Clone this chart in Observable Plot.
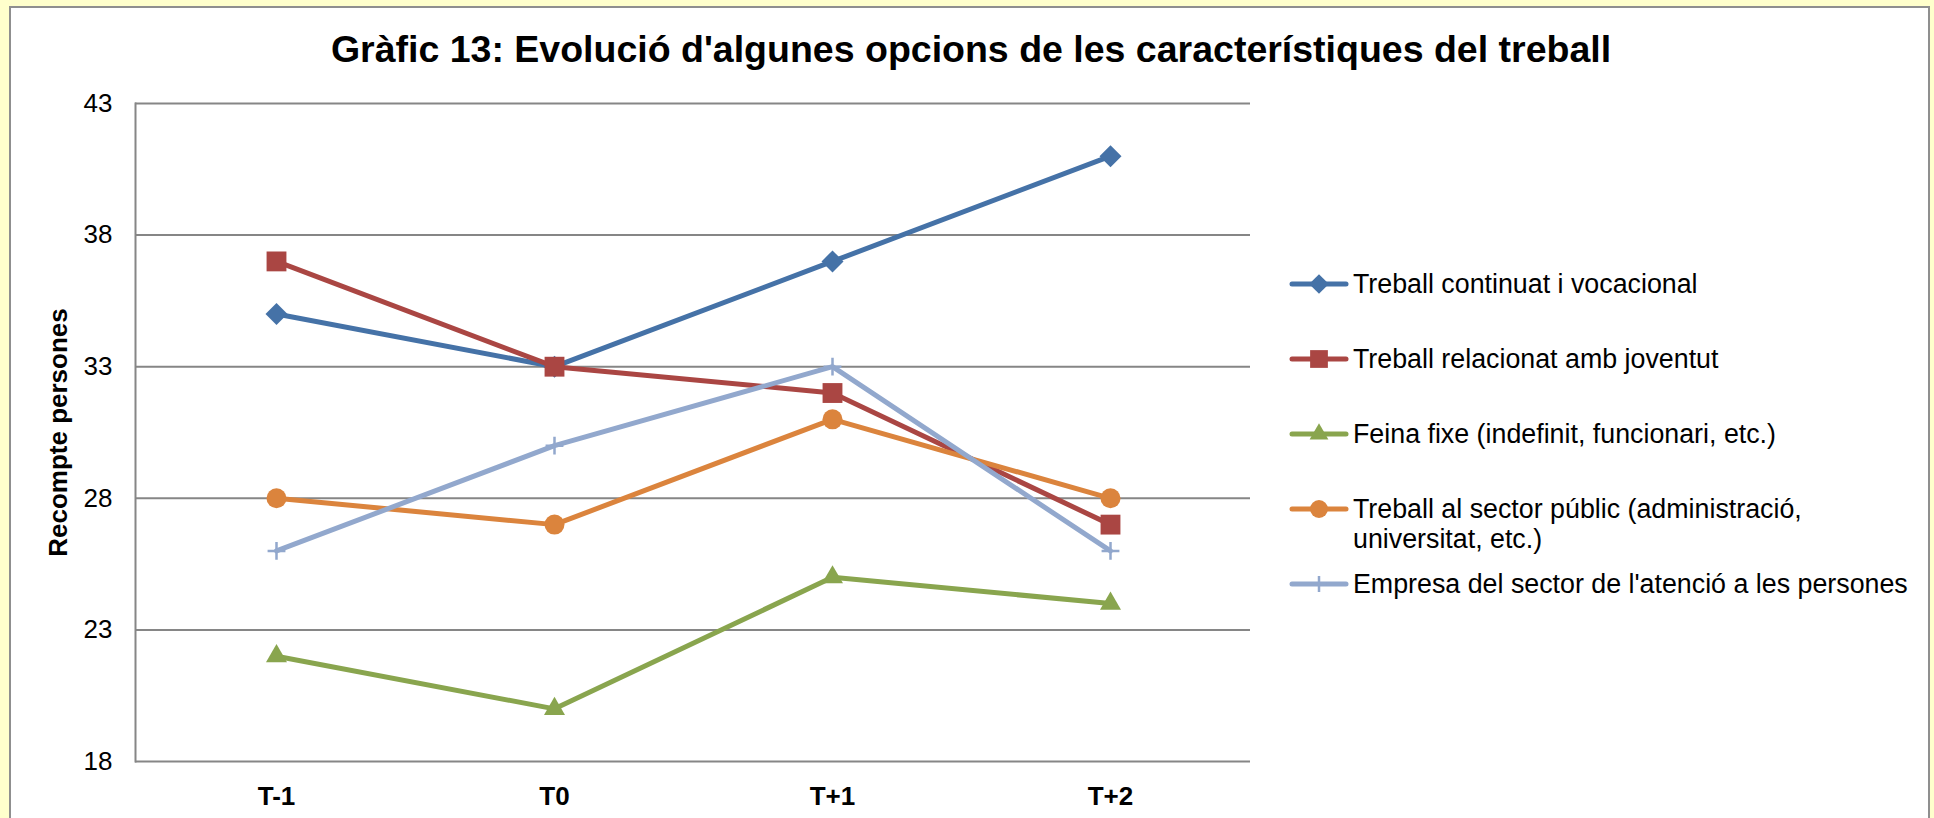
<!DOCTYPE html>
<html>
<head>
<meta charset="utf-8">
<script src="https://cdn.jsdelivr.net/npm/d3@7"></script>
<script src="https://cdn.jsdelivr.net/npm/@observablehq/plot@0.6"></script>
<style>
  html, body { margin: 0; padding: 0; }
  body { width: 1934px; height: 818px; background: #FFFFCC; position: relative; overflow: hidden;
         font-family: "Liberation Sans", Arial, sans-serif; }
  #box { position: absolute; left: 9px; top: 6px; width: 1921px; height: 900px; background: #fff;
         border: 2px solid #8f8f8f; box-sizing: border-box; }
  #title { position: absolute; left: 0; width: 1942px; top: 31px; text-align: center;
           font-weight: bold; font-size: 37.5px; line-height: 37.5px; color: #000; white-space: nowrap; }
  #chart { position: absolute; left: 0; top: 0; }
  #legend { position: absolute; left: 0; top: 0; }
  .row { position: absolute; left: 1288px; height: 30px; }
  .row svg { position: absolute; left: 0; top: 0; overflow: visible; }
  .row .lab { position: absolute; left: 65px; width: 568px; font-size: 26.8px; line-height: 30px; color: #000; }
</style>
</head>
<body>
<div id="box"></div>
<div id="title"></div>
<div id="chart"></div>
<div id="legend"></div>
<script>
const titleText = "Gràfic 13: Evolució d'algunes opcions de les característiques del treball";
const yAxisTitle = "Recompte persones";
const categories = ["T-1", "T0", "T+1", "T+2"];
const yTicks = [18, 23, 28, 33, 38, 43];

const seriesNames = [
  "Treball continuat i vocacional",
  "Treball relacionat amb joventut",
  "Feina fixe (indefinit, funcionari, etc.)",
  "Treball al sector públic (administració, universitat, etc.)",
  "Empresa del sector de l'atenció a les persones"
];
const treballContinuat = [35, 33, 37, 41];
const treballJoventut  = [37, 33, 32, 27];
const feinaFixe        = [22, 20, 25, 24];
const sectorPublic     = [28, 27, 31, 28];
const empresaAtencio   = [26, 30, 33, 26];

const seriesValues = [treballContinuat, treballJoventut, feinaFixe, sectorPublic, empresaAtencio];
const colors  = ["#4572A7", "#AA4643", "#89A54E", "#DB843D", "#92A8CD"];
const symbols = ["diamond2", "square", "triangle", "circle", "plus"];
const radii   = [9.9, 11.2, 7.8, 10, 5.8];

document.getElementById("title").textContent = titleText;

const data = seriesNames.flatMap((name, i) =>
  categories.map((c, j) => ({series: name, cat: c, value: seriesValues[i][j]})));

const marks = [
  Plot.gridY(yTicks, {stroke: "#868686", strokeOpacity: 1, strokeWidth: 2}),
  Plot.frame({anchor: "left", stroke: "#868686", strokeWidth: 2}),
  Plot.axisY(yTicks, {tickSize: 0, tickPadding: 23, fontSize: 26, fill: "#000", label: null}),
  Plot.axisX({tickSize: 0, tickPadding: 25, fontSize: 26, fontWeight: "bold", fill: "#000", label: null}),
  Plot.text([yAxisTitle], {frameAnchor: "left", textAnchor: "middle", rotate: -90, dx: -77, fontSize: 26, fontWeight: "bold", fill: "#000"})
];
seriesNames.forEach((name, i) => {
  const d = data.filter(r => r.series === name);
  marks.push(Plot.line(d, {x: "cat", y: "value", stroke: colors[i], strokeWidth: 5, strokeLinejoin: "round", strokeLinecap: "round"}));
  const isStroke = symbols[i] === "plus";
  marks.push(Plot.dot(d, {x: "cat", y: "value", symbol: () => symbols[i], r: radii[i],
    fill: isStroke ? "none" : colors[i], stroke: isStroke ? colors[i] : "none", strokeWidth: isStroke ? 2.5 : 0}));
});

const chart = Plot.plot({
  width: 1934, height: 818,
  marginLeft: 135, marginRight: 684, marginTop: 103, marginBottom: 57,
  style: {background: "transparent", fontFamily: "'Liberation Sans', Arial, sans-serif", overflow: "visible"},
  x: {type: "point", domain: categories, padding: 0.5},
  y: {domain: [18, 43]},
  symbol: {type: "identity"},
  marks
});
document.getElementById("chart").appendChild(chart);

// legend
const legend = d3.select("#legend");
const symbolMap = {diamond2: d3.symbolDiamond2, square: d3.symbolSquare, triangle: d3.symbolTriangle, circle: d3.symbolCircle, plus: d3.symbolPlus};
seriesNames.forEach((name, i) => {
  const rowY = 284 + 75 * i;
  const row = legend.append("div").attr("class", "row").style("top", (rowY - 15) + "px");
  const svg = row.append("svg").attr("width", 60).attr("height", 30);
  svg.append("line").attr("x1", 4).attr("x2", 58).attr("y1", 15).attr("y2", 15)
    .attr("stroke", colors[i]).attr("stroke-width", 5).attr("stroke-linecap", "round");
  const isStroke = symbols[i] === "plus";
  svg.append("path")
    .attr("transform", "translate(31,15)")
    .attr("d", d3.symbol(symbolMap[symbols[i]], Math.PI * radii[i] * radii[i] * 0.8)())
    .attr("fill", isStroke ? "none" : colors[i])
    .attr("stroke", isStroke ? colors[i] : "none")
    .attr("stroke-width", isStroke ? 2.5 : 0);
  row.append("div").attr("class", "lab").style("top", "0px").text(name);
});
</script>
</body>
</html>
